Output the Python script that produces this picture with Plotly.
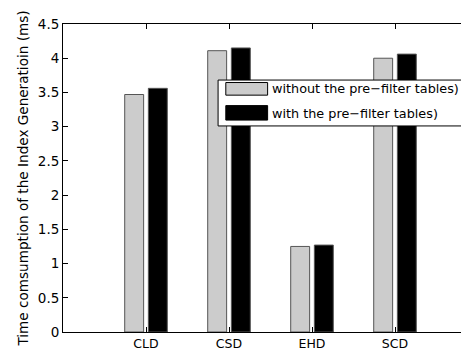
import plotly.graph_objects as go

categories = ["CLD", "CSD", "EHD", "SCD"]
without_tables = [3.47, 4.11, 1.25, 4.00]
with_tables = [3.56, 4.15, 1.27, 4.06]
series_names = ["without the pre\u2212filter tables)", "with the pre\u2212filter tables)"]
y_ticks = [0, 0.5, 1, 1.5, 2, 2.5, 3, 3.5, 4, 4.5]

FONT = "DejaVu Sans, Liberation Sans, Arial, sans-serif"
GRAY = "#cccccc"
EDGE = "#555555"

xpos = list(range(1, len(categories) + 1))

fig = go.Figure()
fig.add_trace(go.Bar(x=xpos, y=without_tables, name=series_names[0],
                     marker=dict(color=GRAY, line=dict(color=EDGE, width=1)),
                     showlegend=False))
fig.add_trace(go.Bar(x=xpos, y=with_tables, name=series_names[1],
                     marker=dict(color="black", line=dict(color=EDGE, width=1)),
                     showlegend=False))

# custom MATLAB-style legend
shapes = [
    dict(type="rect", xref="paper", yref="paper", x0=0.382, x1=1.05, y0=0.669, y1=0.818,
         line=dict(color="black", width=1), fillcolor="white", layer="above"),
    dict(type="rect", xref="paper", yref="paper", x0=0.401, x1=0.504, y0=0.769, y1=0.810,
         line=dict(color="black", width=1), fillcolor=GRAY, layer="above"),
    dict(type="rect", xref="paper", yref="paper", x0=0.401, x1=0.504, y0=0.688, y1=0.735,
         line=dict(color="black", width=1), fillcolor="black", layer="above"),
]
annotations = [
    dict(xref="paper", yref="paper", x=0.509, y=0.789, text=series_names[0], showarrow=False,
         xanchor="left", yanchor="middle", font=dict(family=FONT, size=12.8, color="black")),
    dict(xref="paper", yref="paper", x=0.509, y=0.711, text=series_names[1], showarrow=False,
         xanchor="left", yanchor="middle", font=dict(family=FONT, size=12.8, color="black")),
]

fig.update_layout(
    width=461, height=345,
    margin=dict(l=55, r=0, t=16, b=21, autoexpand=False),
    paper_bgcolor="white", plot_bgcolor="white",
    barmode="group", bargap=0.43, bargroupgap=0.2,
    font=dict(family=FONT, size=13, color="black"),
    shapes=shapes, annotations=annotations,
    xaxis=dict(range=[0, 406 / 83], tickmode="array", tickvals=xpos, ticktext=categories,
               showgrid=False, zeroline=False, showline=True, linecolor="black", linewidth=1,
               mirror="ticks", ticks="inside", ticklen=5, tickcolor="black",
               tickfont=dict(size=12.5), automargin=False),
    yaxis=dict(range=[0, 4.5], tickmode="array", tickvals=y_ticks,
               ticktext=[("%g" % v) for v in y_ticks],
               showgrid=False, zeroline=False, showline=True, linecolor="black", linewidth=1,
               ticks="inside", ticklen=5, tickcolor="black", tickfont=dict(size=13.5),
               automargin=False,
               title=dict(text="Time comsumption of the Index Generatioin (ms)",
                          font=dict(size=13.6), standoff=6)),
)

fig.write_html("out.html")
